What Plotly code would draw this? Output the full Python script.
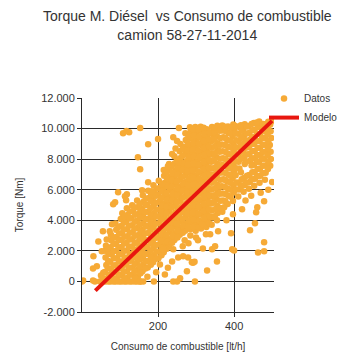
import plotly.graph_objects as go

# ---- Datos (consumo [lt/h], torque [Nm]) ----
datos_consumo = [
    47, 50,
    61, 63, 60, 64, 62, 61, 63,
    75, 77, 76, 74, 78, 75, 77, 76,
    89, 91, 90, 88, 92, 90, 89, 91, 90, 88,
    103, 105, 104, 102, 106, 104, 103, 105, 104, 102, 106,
    117, 119, 118, 116, 120, 118, 117, 119, 118, 116, 120, 118,
    131, 133, 132, 130, 134, 132, 131, 133, 132, 130, 134, 132,
    145, 147, 146, 144, 148, 146, 145, 147, 146, 144, 148, 146, 145,
    159, 161, 160, 158, 162, 160, 159, 161, 160, 158, 162, 160,
    173, 175, 174, 172, 176, 174, 173, 175, 174, 172, 176, 174,
    187, 189, 188, 186, 190, 188, 187, 189, 188, 186, 190, 188,
    201, 203, 202, 200, 204, 202, 201, 203, 202, 200, 204, 202,
    215, 217, 216, 214, 218, 216, 215, 217, 216, 214, 218, 216, 215,
    229, 231, 230, 228, 232, 230, 229, 231, 230, 228, 232, 230, 229,
    243, 245, 244, 242, 246, 244, 243, 245, 244, 242, 246, 244, 243,
    257, 259, 258, 256, 260, 258, 257, 259, 258, 256, 260, 258, 257, 259,
    271, 273, 272, 270, 274, 272, 271, 273, 272, 270, 274, 272, 271, 273, 272,
    285, 287, 286, 284, 288, 286, 285, 287, 286, 284, 288, 286, 285, 287, 286, 284,
    299, 301, 300, 298, 302, 300, 299, 301, 300, 298, 302, 300, 299, 301, 300, 298,
    313, 315, 314, 312, 316, 314, 313, 315, 314, 312, 316, 314, 313, 315, 314, 312,
    327, 329, 328, 326, 330, 328, 327, 329, 328, 326, 330, 328, 327, 329, 328,
    341, 343, 342, 340, 344, 342, 341, 343, 342, 340, 344, 342, 341, 343, 342,
    355, 357, 356, 354, 358, 356, 355, 357, 356, 354, 358, 356, 355, 357, 356,
    369, 371, 370, 368, 372, 370, 369, 371, 370, 368, 372, 370, 369,
    383, 385, 384, 382, 386, 384, 383, 385, 384, 382, 386, 384,
    397, 399, 398, 396, 400, 398, 397, 399, 398, 396, 400, 398,
    411, 413, 412, 414, 412, 411, 413, 412, 410, 414,
    425, 427, 426, 428, 426, 425, 427, 426, 424, 428,
    439, 441, 440, 442, 440, 439, 441, 440, 438,
    453, 455, 454, 452, 456, 454, 453, 455, 454, 452,
    467, 469, 468, 466, 470, 468, 467, 469, 468, 466,
    481, 483, 482, 480, 484, 482, 481, 483, 482,
    495, 497, 496, 494, 498, 496, 495, 499,
]
datos_torque = [
    0, 380,
    0, 150, 620, 1080, 1560, 2010, 2330,
    0, 360, 810, 1290, 1760, 2240, 2690, 3060,
    0, 210, 640, 1060, 1520, 1990, 2460, 2910, 3380, 3790,
    0, 420, 860, 1310, 1790, 2260, 2720, 3160, 3640, 4090, 4460,
    0, 230, 660, 1120, 1560, 2030, 2510, 2960, 3420, 3890, 4340, 4780,
    0, 440, 910, 1370, 1810, 2290, 2760, 3210, 3670, 4140, 4590, 4990,
    0, 340, 760, 1210, 1660, 2110, 2560, 3020, 3490, 3960, 4410, 4860, 5290,
    660, 1090, 1560, 2010, 2460, 2920, 3360, 3810, 4290, 4740, 5210, 5640,
    910, 1360, 1790, 2260, 2710, 3170, 3640, 4110, 4560, 5010, 5460, 5940,
    1260, 1710, 2160, 2610, 3090, 3560, 4010, 4460, 4910, 5360, 5840, 6290,
    1510, 1960, 2410, 2890, 3360, 3810, 4260, 4710, 5190, 5660, 6110, 6590,
    1910, 2360, 2810, 3260, 3710, 4160, 4640, 5110, 5560, 6010, 6460, 6910, 7290,
    2310, 2760, 3210, 3660, 4110, 4590, 5060, 5510, 5960, 6410, 6860, 7310, 7690,
    2710, 3160, 3610, 4060, 4510, 4960, 5440, 5910, 6360, 6810, 7260, 7710, 8190,
    3060, 3510, 3960, 4410, 4860, 5310, 5760, 6210, 6690, 7160, 7610, 8060, 8510, 8990,
    3310, 3760, 4210, 4660, 5110, 5590, 6060, 6510, 6960, 7410, 7860, 8340, 8810, 9260, 9690,
    3410, 3860, 4330, 4790, 5240, 5690, 6140, 6610, 7080, 7530, 7980, 8430, 8890, 9360, 9810, 10080,
    3310, 3760, 4210, 4660, 5110, 5560, 6030, 6480, 6930, 7390, 7840, 8290, 8760, 9230, 9680, 10110,
    3460, 3910, 4360, 4810, 5260, 5730, 6190, 6640, 7090, 7560, 8010, 8460, 8930, 9380, 9830, 10120,
    3560, 4010, 4460, 4930, 5390, 5840, 6290, 6760, 7210, 7660, 8110, 8590, 9040, 9490, 9960,
    3710, 4180, 4640, 5090, 5540, 6010, 6460, 6910, 7380, 7830, 8280, 8740, 9190, 9640, 10100,
    4010, 4470, 4940, 5390, 5840, 6310, 6760, 7210, 7680, 8130, 8580, 9040, 9490, 9940, 10180,
    4560, 5290, 5760, 6230, 6680, 7130, 7610, 8060, 8510, 8960, 9430, 9880, 10200,
    5060, 5610, 6060, 6530, 6980, 7440, 7890, 8340, 8810, 9260, 9710, 10140,
    5260, 5810, 6290, 6740, 7190, 7660, 8110, 8560, 9030, 9480, 9930, 10270,
    5560, 6010, 6460, 7380, 7830, 8290, 8740, 9190, 9660, 10110,
    5860, 6310, 6760, 7680, 8130, 8610, 9060, 9510, 9960, 10290,
    6060, 6510, 6960, 7890, 8340, 8810, 9260, 9710, 10160,
    6260, 6710, 7160, 7630, 8080, 8530, 9010, 9460, 9910, 10360,
    6460, 6910, 7380, 7830, 8280, 8740, 9190, 9640, 10090, 10460,
    6660, 7110, 7580, 8030, 8480, 8940, 9390, 9840, 10290,
    7560, 8010, 8480, 8930, 9380, 9830, 10260, 10480,
]

# in-between columns of the dense band
datos_consumo_b = [
    55, 56,
    69, 70, 68, 69, 70, 68,
    83, 84, 82, 83, 84, 82, 83, 84,
    97, 98, 96, 97, 98, 96, 97, 98, 96,
    111, 112, 110, 111, 112, 110, 111, 112, 110, 111, 112,
    125, 126, 124, 125, 126, 124, 125, 126, 124, 125, 126,
    139, 140, 138, 139, 140, 138, 139, 140, 138, 139, 140, 138,
    153, 154, 152, 153, 154, 152, 153, 154, 152, 153, 154, 152,
    167, 168, 166, 167, 168, 166, 167, 168, 166, 167, 168,
    181, 182, 180, 181, 182, 180, 181, 182, 180, 181, 182,
    195, 196, 194, 195, 196, 194, 195, 196, 194, 195, 196,
    209, 210, 208, 209, 210, 208, 209, 210, 208, 209, 210,
    223, 224, 222, 223, 224, 222, 223, 224, 222, 223, 224, 222,
    237, 238, 236, 237, 238, 236, 237, 238, 236, 237, 238, 236,
    251, 252, 250, 251, 252, 250, 251, 252, 250, 251, 252, 250,
    265, 266, 264, 265, 266, 264, 265, 266, 264, 265, 266, 264, 265,
    279, 280, 278, 279, 280, 278, 279, 280, 278, 279, 280, 278, 279, 280,
    293, 294, 292, 293, 294, 292, 293, 294, 292, 293, 294, 292, 293, 294, 292,
    307, 308, 306, 307, 308, 306, 307, 308, 306, 307, 308, 306, 307, 308, 306,
    321, 322, 320, 321, 322, 320, 321, 322, 320, 321, 322, 320, 321, 322, 320,
    335, 336, 334, 335, 336, 334, 335, 336, 334, 335, 336, 334, 335, 336,
    349, 350, 348, 349, 350, 348, 349, 350, 348, 349, 350, 348, 349, 350,
    363, 364, 362, 363, 364, 362, 363, 364, 362, 363, 364, 362,
    377, 378, 376, 377, 378, 376, 377, 378, 376, 377, 378, 376,
    391, 392, 390, 391, 392, 390, 391, 392, 390, 391, 392,
    405, 406, 404, 405, 406, 404, 405, 406, 404, 405,
    419, 420, 418, 419, 420, 418, 419, 420, 418,
    433, 434, 432, 433, 434, 432, 433, 434,
    447, 448, 446, 447, 448, 446, 447, 448, 446,
    461, 462, 460, 461, 462, 460, 461, 462, 460,
    475, 476, 474, 475, 476, 474, 475, 476,
    489, 490, 488, 489, 490, 488, 489, 490,
]
datos_torque_b = [
    190, 560,
    0, 420, 860, 1330, 1790, 2150,
    0, 180, 590, 1040, 1520, 1980, 2450, 2880,
    0, 430, 870, 1300, 1760, 2230, 2700, 3140, 3560,
    0, 190, 640, 1090, 1540, 2010, 2480, 2930, 3390, 3860, 4250,
    0, 430, 890, 1340, 1790, 2270, 2740, 3190, 3640, 4110, 4570,
    0, 210, 670, 1140, 1590, 2040, 2510, 2990, 3440, 3900, 4370, 4830,
    0, 530, 980, 1440, 1890, 2340, 2790, 3260, 3720, 4170, 4640, 5090,
    840, 1320, 1780, 2230, 2690, 3140, 3590, 4060, 4520, 4980, 5430,
    1090, 1560, 2020, 2480, 2930, 3390, 3860, 4330, 4790, 5240, 5690,
    1480, 1940, 2390, 2850, 3320, 3780, 4240, 4690, 5130, 5610, 6070,
    1720, 2180, 2640, 3110, 3580, 4040, 4490, 4950, 5420, 5890, 6340,
    2130, 2590, 3040, 3490, 3960, 4420, 4890, 5340, 5790, 6260, 6720, 7120,
    2530, 2990, 3440, 3890, 4360, 4830, 5290, 5740, 6190, 6640, 7090, 7520,
    2880, 3340, 3790, 4250, 4710, 5180, 5640, 6090, 6540, 7000, 7470, 7930,
    3190, 3640, 4090, 4540, 5010, 5480, 5930, 6390, 6840, 7290, 7750, 8210, 8660,
    3540, 3990, 4450, 4920, 5380, 5840, 6290, 6740, 7200, 7670, 8120, 8570, 9030, 9480,
    3560, 4030, 4490, 4960, 5420, 5870, 6340, 6790, 7250, 7710, 8170, 8620, 9080, 9540, 9960,
    3540, 3990, 4440, 4900, 5370, 5830, 6290, 6740, 7190, 7660, 8120, 8570, 9020, 9480, 9940,
    3690, 4150, 4610, 5070, 5520, 5980, 6440, 6900, 7350, 7810, 8270, 8730, 9180, 9640, 10060,
    3800, 4260, 4720, 5170, 5630, 6080, 6550, 7010, 7460, 7920, 8380, 8840, 9290, 9750,
    4260, 4720, 5170, 5630, 6090, 6550, 7010, 7460, 7910, 8380, 8840, 9300, 9760, 10060,
    4810, 5280, 5740, 6190, 6650, 7110, 7560, 8020, 8480, 8940, 9390, 9850,
    5250, 5720, 6180, 6640, 7100, 7560, 8010, 8470, 8930, 9390, 9840, 10120,
    5540, 6000, 6460, 6910, 7380, 7840, 8300, 8760, 9210, 9670, 10070,
    6010, 6480, 6940, 7400, 7860, 8320, 8770, 9230, 9690, 10150,
    6230, 6690, 7150, 8020, 8480, 8940, 9400, 9850, 10210,
    6460, 6920, 7840, 8300, 8760, 9210, 9670, 10130,
    6680, 7140, 7590, 8060, 8520, 8980, 9430, 9890, 10300,
    6900, 7350, 7810, 8270, 8730, 9190, 9650, 10110, 10400,
    7100, 7560, 8020, 8480, 8940, 9390, 9850, 10300,
    7350, 7810, 8260, 8720, 9180, 9630, 10090, 10450,
]

# scattered points away from the band
datos_consumo_c = [
    0, 3, 29, 34, 29, 39, 30, 52, 43, 65, 73, 55, 79, 82, 87, 95, 113, 116, 118,
    108, 117, 124, 153, 200, 174, 147, 153, 158, 174, 184, 210, 226, 237, 240, 250,
    253, 255, 246,
    153, 161, 189, 240, 250, 297, 226, 237, 240, 213, 205, 218, 172, 195,
    479, 463, 479, 455, 442, 395, 400, 392, 355, 329, 258, 276, 289, 292, 296,
    279, 266, 253, 318, 342, 350, 358, 337, 326, 300, 316, 374, 397, 461, 421,
    479, 458, 270, 285, 265, 280, 305, 380, 430, 445, 470, 490, 500,
]
datos_torque_c = [
    0, 60, 60, 0, 850, 1000, 1640, 1970, 2620, 2750, 3280, 3280, 3740, 5050, 5180, 5840, 5570, 5310, 5700,
    9700, 9840, 9760, 10030, 9310, 8980, 8130, 7340, 5970, 6490, 5900, 6360, 7540, 8330, 9440, 9180,
    7800, 10030, 8700,
    0, 0, 0, 0, 0, 0, 900, 1310, 2100, 2100, 1110, 460, 300, 600,
    2560, 1900, 1970, 3800, 3340, 2100, 2030, 3150, 1310, 720, 200, 660, 1250, 1230, 1280,
    1570, 1640, 1570, 2160, 2100, 2300, 3280, 3080, 3080, 2880, 3740, 4850, 4390, 4850, 4720,
    5250, 4520, 2700, 3000, 2300, 2500, 2700, 4000, 5300, 5600, 5800, 6000, 6500,
]

# ---- Modelo (straight fit line, endpoints) ----
modelo_consumo = [35, 500]
modelo_torque = [-600, 10500]

# ---- Tick labels ----
x_ticks = [200, 400]
x_ticklabels = ["200", "400"]
y_ticks = [-2000, 0, 2000, 4000, 6000, 8000, 10000, 12000]
y_ticklabels = ["-2.000", "0", "2.000", "4.000", "6.000", "8.000", "10.000", "12.000"]

FONT = "Liberation Sans, Arial, sans-serif"
GRID = "#2a2a2a"

all_x = datos_consumo + datos_consumo_b + datos_consumo_c
all_y = datos_torque + datos_torque_b + datos_torque_c

fig = go.Figure()
fig.add_trace(go.Scatter(
    x=all_x, y=all_y, mode="markers", name="Datos",
    marker=dict(color="#F6AA36", size=6.5, line=dict(width=0)),
))
fig.add_trace(go.Scatter(
    x=modelo_consumo, y=modelo_torque, mode="lines", name="Modelo",
    line=dict(color="#E8170F", width=4),
))

# page body adds an 8px offset, so the figure is 8px smaller than the window
fig.update_layout(
    width=347, height=346,
    margin=dict(l=74, r=81, t=90, b=42, autoexpand=False),
    paper_bgcolor="white", plot_bgcolor="white",
    font=dict(family=FONT, color="#333333"),
    title=dict(
        text="Torque M. Diésel  vs Consumo de combustible<br>camion 58-27-11-2014",
        x=0.5167, xanchor="center", y=0.961, yanchor="top",
        font=dict(size=14, color="#333333", family=FONT),
    ),
    showlegend=True,
    legend=dict(
        x=0.948, y=1.065, xanchor="left", yanchor="top",
        font=dict(size=10, color="#333333"),
        bgcolor="rgba(0,0,0,0)", tracegroupgap=0,
        itemwidth=30,
    ),
    xaxis=dict(
        range=[0, 505], tickvals=x_ticks, ticktext=x_ticklabels,
        showgrid=True, gridcolor=GRID, gridwidth=1,
        showline=True, linecolor=GRID, linewidth=1,
        ticks="outside", ticklen=4, tickcolor=GRID, automargin=False,
        zeroline=False, tickfont=dict(size=11, color="#333333"),
        title=dict(text="Consumo de combustible [lt/h]", font=dict(size=10, color="#333333"), standoff=11),
    ),
    yaxis=dict(
        range=[-2000, 12000], tickvals=y_ticks, ticktext=y_ticklabels,
        showgrid=True, gridcolor=GRID, gridwidth=1,
        showline=True, linecolor=GRID, linewidth=1,
        ticks="outside", ticklen=4, tickcolor=GRID, automargin=False,
        zeroline=False, tickfont=dict(size=11, color="#333333"),
        title=dict(text="Torque [Nm]", font=dict(size=10, color="#333333"), standoff=15),
    ),
)

fig.write_html("out.html")
